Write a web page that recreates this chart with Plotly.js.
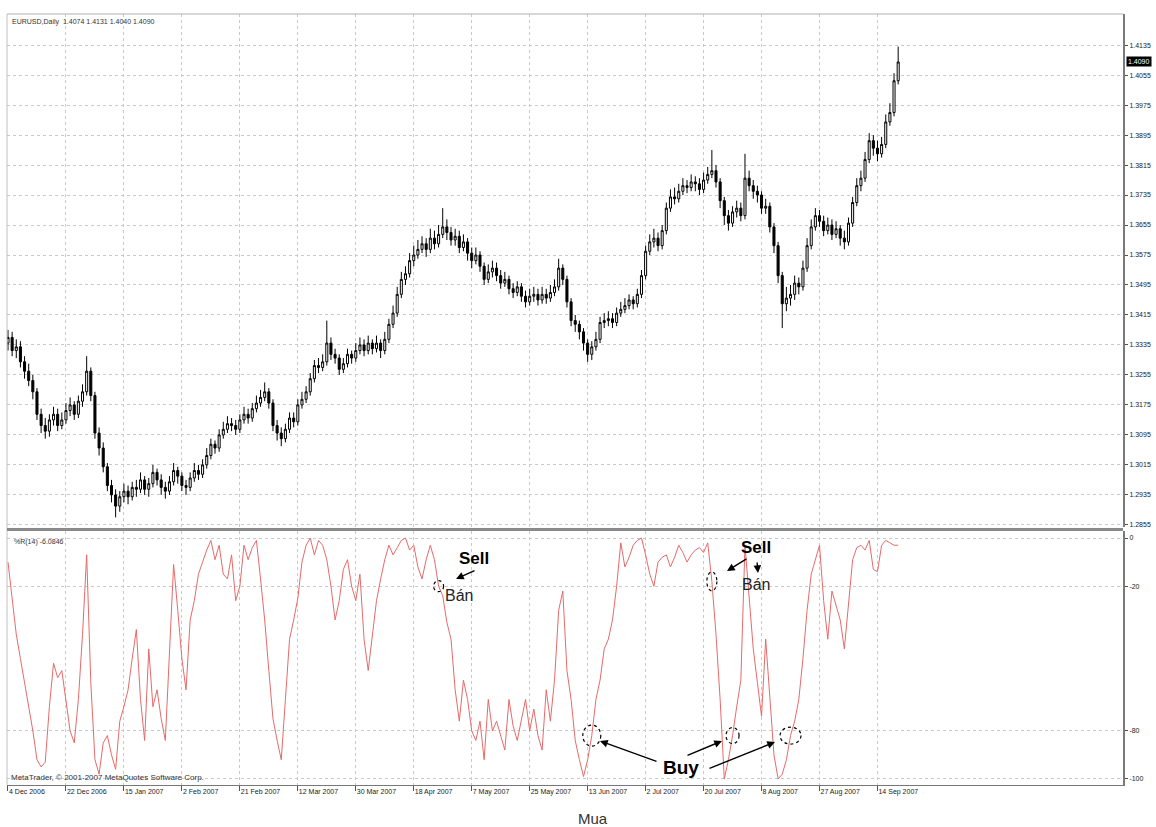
<!DOCTYPE html>
<html><head><meta charset="utf-8">
<script src="https://cdn.plot.ly/plotly-3.0.1.min.js"></script>
<style>html,body{margin:0;padding:0;background:#fff}#chart{width:1156px;height:827px}</style>
</head><body><div id="chart"></div>
<script>
// ---------- DATA ----------
const dateLabels = ["4 Dec 2006","22 Dec 2006","15 Jan 2007","2 Feb 2007","21 Feb 2007","12 Mar 2007","30 Mar 2007","18 Apr 2007","7 May 2007","25 May 2007","13 Jun 2007","2 Jul 2007","20 Jul 2007","8 Aug 2007","27 Aug 2007","14 Sep 2007"];
const dateTickBars = [0,14,28,42,56,70,84,98,112,126,140,154,168,182,196,210];
const priceTicks = [1.2855,1.2935,1.3015,1.3095,1.3175,1.3255,1.3335,1.3415,1.3495,1.3575,1.3655,1.3735,1.3815,1.3895,1.3975,1.4055,1.4135];
const wprTicks = [0,-20,-80,-100];
const wprTickText = ["0","-20","-80","-100"];

const open = [1.3340,1.3355,1.3320,1.3330,1.3290,1.3265,1.3240,1.3210,1.3150,1.3120,
1.3105,1.3135,1.3150,1.3120,1.3135,1.3160,1.3175,1.3150,1.3185,1.3210,
1.3265,1.3200,1.3100,1.3060,1.3010,1.2960,1.2935,1.2905,1.2930,1.2945,
1.2930,1.2955,1.2950,1.2975,1.2950,1.2965,1.2995,1.2975,1.2955,1.2945,
1.2970,1.3000,1.2985,1.2960,1.2955,1.2980,1.3000,1.2990,1.3015,1.3040,
1.3070,1.3060,1.3095,1.3110,1.3125,1.3120,1.3110,1.3135,1.3150,1.3140,
1.3165,1.3180,1.3195,1.3210,1.3180,1.3120,1.3100,1.3085,1.3110,1.3140,
1.3130,1.3175,1.3190,1.3210,1.3245,1.3280,1.3275,1.3290,1.3340,1.3310,
1.3300,1.3270,1.3285,1.3310,1.3300,1.3320,1.3335,1.3320,1.3340,1.3325,
1.3340,1.3320,1.3350,1.3390,1.3420,1.3470,1.3510,1.3525,1.3560,1.3575,
1.3590,1.3605,1.3590,1.3620,1.3605,1.3630,1.3650,1.3635,1.3615,1.3625,
1.3595,1.3610,1.3580,1.3560,1.3575,1.3545,1.3510,1.3530,1.3540,1.3520,
1.3500,1.3510,1.3485,1.3475,1.3490,1.3465,1.3450,1.3465,1.3470,1.3455,
1.3470,1.3460,1.3475,1.3490,1.3540,1.3510,1.3450,1.3400,1.3390,1.3370,
1.3340,1.3310,1.3330,1.3350,1.3395,1.3400,1.3405,1.3395,1.3420,1.3430,
1.3440,1.3455,1.3445,1.3470,1.3520,1.3585,1.3610,1.3620,1.3600,1.3640,
1.3700,1.3730,1.3725,1.3745,1.3760,1.3755,1.3770,1.3765,1.3750,1.3775,
1.3790,1.3800,1.3770,1.3720,1.3680,1.3660,1.3690,1.3700,1.3680,1.3780,
1.3760,1.3745,1.3735,1.3700,1.3705,1.3650,1.3600,1.3520,1.3445,1.3460,
1.3470,1.3500,1.3490,1.3540,1.3600,1.3650,1.3680,1.3665,1.3640,1.3655,
1.3630,1.3645,1.3620,1.3610,1.3660,1.3715,1.3760,1.3780,1.3830,1.3880,
1.3860,1.3845,1.3870,1.3930,1.3955,1.4040];

const high = [1.3375,1.3370,1.3350,1.3345,1.3305,1.3285,1.3255,1.3220,1.3165,1.3140,
1.3150,1.3170,1.3165,1.3155,1.3180,1.3195,1.3185,1.3200,1.3230,1.3305,
1.3275,1.3210,1.3115,1.3075,1.3020,1.2975,1.2950,1.2945,1.2965,1.2960,
1.2970,1.2975,1.2995,1.2985,1.2980,1.3015,1.3005,1.2990,1.2970,1.2985,
1.3020,1.3010,1.2995,1.2975,1.2995,1.3020,1.3015,1.3030,1.3060,1.3085,
1.3080,1.3110,1.3130,1.3145,1.3140,1.3135,1.3150,1.3170,1.3165,1.3180,
1.3200,1.3215,1.3235,1.3220,1.3190,1.3135,1.3115,1.3125,1.3155,1.3155,
1.3190,1.3210,1.3225,1.3260,1.3295,1.3300,1.3310,1.3400,1.3355,1.3325,
1.3310,1.3300,1.3325,1.3320,1.3340,1.3355,1.3350,1.3360,1.3350,1.3360,
1.3350,1.3370,1.3405,1.3440,1.3490,1.3530,1.3545,1.3580,1.3600,1.3615,
1.3625,1.3620,1.3645,1.3640,1.3655,1.3700,1.3670,1.3650,1.3645,1.3640,
1.3630,1.3620,1.3595,1.3595,1.3585,1.3555,1.3550,1.3560,1.3555,1.3535,
1.3530,1.3520,1.3500,1.3505,1.3500,1.3480,1.3485,1.3490,1.3485,1.3490,
1.3485,1.3495,1.3510,1.3565,1.3550,1.3520,1.3460,1.3415,1.3400,1.3380,
1.3350,1.3345,1.3370,1.3410,1.3420,1.3425,1.3420,1.3435,1.3450,1.3460,
1.3470,1.3465,1.3485,1.3535,1.3600,1.3630,1.3645,1.3635,1.3655,1.3715,
1.3750,1.3755,1.3765,1.3780,1.3775,1.3790,1.3785,1.3780,1.3795,1.3810,
1.3855,1.3815,1.3780,1.3730,1.3695,1.3705,1.3720,1.3715,1.3845,1.3800,
1.3775,1.3760,1.3745,1.3725,1.3715,1.3660,1.3610,1.3530,1.3490,1.3495,
1.3520,1.3515,1.3560,1.3620,1.3670,1.3700,1.3695,1.3680,1.3675,1.3670,
1.3665,1.3655,1.3640,1.3675,1.3730,1.3780,1.3800,1.3850,1.3900,1.3895,
1.3880,1.3890,1.3950,1.3980,1.4060,1.4131];

const low = [1.3320,1.3305,1.3300,1.3275,1.3245,1.3225,1.3190,1.3135,1.3100,1.3085,
1.3090,1.3120,1.3105,1.3110,1.3125,1.3145,1.3135,1.3140,1.3170,1.3200,
1.3185,1.3085,1.3040,1.2995,1.2945,1.2915,1.2875,1.2890,1.2915,1.2910,
1.2920,1.2930,1.2940,1.2935,1.2930,1.2955,1.2960,1.2935,1.2925,1.2935,
1.2960,1.2965,1.2945,1.2935,1.2945,1.2970,1.2975,1.2980,1.3005,1.3030,
1.3045,1.3050,1.3085,1.3100,1.3105,1.3095,1.3100,1.3125,1.3125,1.3130,
1.3155,1.3170,1.3185,1.3165,1.3105,1.3080,1.3065,1.3075,1.3100,1.3115,
1.3120,1.3165,1.3180,1.3200,1.3235,1.3260,1.3265,1.3280,1.3295,1.3285,
1.3255,1.3260,1.3275,1.3285,1.3290,1.3310,1.3305,1.3310,1.3310,1.3315,
1.3300,1.3310,1.3340,1.3380,1.3410,1.3460,1.3495,1.3515,1.3545,1.3565,
1.3580,1.3570,1.3580,1.3590,1.3595,1.3620,1.3615,1.3600,1.3600,1.3580,
1.3585,1.3560,1.3540,1.3550,1.3530,1.3495,1.3500,1.3515,1.3505,1.3485,
1.3490,1.3470,1.3460,1.3465,1.3450,1.3435,1.3440,1.3450,1.3440,1.3445,
1.3445,1.3450,1.3465,1.3480,1.3495,1.3435,1.3385,1.3370,1.3350,1.3320,
1.3290,1.3295,1.3320,1.3340,1.3380,1.3385,1.3380,1.3385,1.3410,1.3420,
1.3430,1.3430,1.3435,1.3460,1.3510,1.3575,1.3595,1.3585,1.3590,1.3630,
1.3690,1.3710,1.3715,1.3735,1.3740,1.3745,1.3745,1.3735,1.3740,1.3765,
1.3780,1.3755,1.3700,1.3655,1.3640,1.3650,1.3675,1.3665,1.3670,1.3745,
1.3725,1.3715,1.3685,1.3685,1.3635,1.3580,1.3500,1.3380,1.3425,1.3440,
1.3455,1.3470,1.3480,1.3530,1.3590,1.3640,1.3650,1.3625,1.3630,1.3615,
1.3620,1.3600,1.3590,1.3600,1.3650,1.3705,1.3745,1.3770,1.3820,1.3840,
1.3825,1.3835,1.3860,1.3920,1.3945,1.4030];

const close = [1.3355,1.3320,1.3330,1.3290,1.3265,1.3240,1.3210,1.3150,1.3120,1.3105,
1.3135,1.3150,1.3120,1.3135,1.3160,1.3175,1.3150,1.3185,1.3210,1.3265,
1.3200,1.3100,1.3060,1.3010,1.2960,1.2935,1.2905,1.2930,1.2945,1.2930,
1.2955,1.2950,1.2975,1.2950,1.2965,1.2995,1.2975,1.2955,1.2945,1.2970,
1.3000,1.2985,1.2960,1.2955,1.2980,1.3000,1.2990,1.3015,1.3040,1.3070,
1.3060,1.3095,1.3110,1.3125,1.3120,1.3110,1.3135,1.3150,1.3140,1.3165,
1.3180,1.3195,1.3210,1.3180,1.3120,1.3100,1.3085,1.3110,1.3140,1.3130,
1.3175,1.3190,1.3210,1.3245,1.3280,1.3275,1.3290,1.3340,1.3310,1.3300,
1.3270,1.3285,1.3310,1.3300,1.3320,1.3335,1.3320,1.3340,1.3325,1.3340,
1.3320,1.3350,1.3390,1.3420,1.3470,1.3510,1.3525,1.3560,1.3575,1.3590,
1.3605,1.3590,1.3620,1.3605,1.3630,1.3650,1.3635,1.3615,1.3625,1.3595,
1.3610,1.3580,1.3560,1.3575,1.3545,1.3510,1.3530,1.3540,1.3520,1.3500,
1.3510,1.3485,1.3475,1.3490,1.3465,1.3450,1.3465,1.3470,1.3455,1.3470,
1.3460,1.3475,1.3490,1.3540,1.3510,1.3450,1.3400,1.3390,1.3370,1.3340,
1.3310,1.3330,1.3350,1.3395,1.3400,1.3405,1.3395,1.3420,1.3430,1.3440,
1.3455,1.3445,1.3470,1.3520,1.3585,1.3610,1.3620,1.3600,1.3640,1.3700,
1.3730,1.3725,1.3745,1.3760,1.3755,1.3770,1.3765,1.3750,1.3775,1.3790,
1.3800,1.3770,1.3720,1.3680,1.3660,1.3690,1.3700,1.3680,1.3780,1.3760,
1.3745,1.3735,1.3700,1.3705,1.3650,1.3600,1.3520,1.3445,1.3460,1.3470,
1.3500,1.3490,1.3540,1.3600,1.3650,1.3680,1.3665,1.3640,1.3655,1.3630,
1.3645,1.3620,1.3610,1.3660,1.3715,1.3760,1.3780,1.3830,1.3880,1.3860,
1.3845,1.3870,1.3930,1.3955,1.4040,1.4090];

const wpr = [-10,-25,-40,-50,-60,-70,-80,-92,-95,-93,
-70,-52,-58,-55,-67,-80,-85,-67,-40,-7,
-60,-92,-98,-85,-82,-90,-96,-76,-70,-63,
-50,-38,-67,-84,-46,-70,-63,-75,-84,-46,
-11,-30,-50,-63,-34,-26,-15,-10,-5,-1,
-9,-3,-15,-17,-7,-26,-20,-3,-9,-4,
-1,-17,-34,-55,-75,-84,-92,-67,-42,-34,
-25,-10,-3,0,-7,-1,-3,-9,-20,-34,
-26,-13,-9,-20,-26,-15,-42,-55,-40,-26,
-17,-9,-3,-7,-4,-1,0,-5,-3,-12,
-17,-9,-3,-9,-20,-24,-35,-42,-63,-76,
-59,-67,-80,-84,-76,-92,-67,-80,-76,-82,
-88,-67,-78,-84,-76,-67,-80,-71,-82,-88,
-63,-76,-59,-30,-22,-55,-67,-84,-92,-99,
-92,-82,-67,-59,-46,-42,-34,-20,-2,-12,
-8,-3,-1,0,-7,-15,-20,-10,-8,-7,
-12,-8,-3,-6,-10,-7,-5,-4,-6,-2,
-18,-40,-67,-100,-92,-82,-70,-59,-3,-26,
-46,-60,-74,-42,-67,-90,-100,-98,-92,-82,
-76,-67,-50,-30,-15,-9,-3,-26,-42,-22,
-28,-34,-46,-26,-9,-4,-3,-5,-1,-13,
-14,-3,-1,-2,-3,-3];

const sellBars = [104, 170];
const buyBars = [141, 175, 189];
const titleText = "EURUSD,Daily  1.4074 1.4131 1.4040 1.4090";
const indicatorText = "%R(14) -6.0846";
const copyrightText = "MetaTrader, © 2001-2007 MetaQuotes Software Corp.";

// ---------- LAYOUT HELPERS ----------
const L = 7, R = 1123, T = 14, B = 785;
const px = x => (x - L) / (R - L);
const py = y => (B - y) / (B - T);
const bars = close.map((_, i) => i);
const FONT = "Liberation Sans, Arial, sans-serif";
const gridC = "#c9c9c9";

const traces = [
  {
    type: "candlestick", x: bars, open: open, high: high, low: low, close: close,
    xaxis: "x", yaxis: "y",
    increasing: {line: {color: "#000", width: 1}, fillcolor: "#ffffff"},
    decreasing: {line: {color: "#000", width: 1}, fillcolor: "#000000"},
    whiskerwidth: 0, hoverinfo: "skip", showlegend: false
  },
  {
    type: "scatter", mode: "lines", x: bars, y: wpr, xaxis: "x", yaxis: "y2",
    line: {color: "#e66a6a", width: 1}, hoverinfo: "skip", showlegend: false
  }
];

const circle = (bar, val, w, h) => ({
  type: "circle", xref: "x", yref: "y2", xsizemode: "pixel", ysizemode: "pixel",
  xanchor: bar, yanchor: val, x0: -w / 2, x1: w / 2, y0: -h / 2, y1: h / 2,
  line: {color: "#000", width: 1.2, dash: "dot"}
});

const shapes = [
  {type: "line", xref: "paper", yref: "paper", x0: 0, x1: 1, y0: 1, y1: 1, line: {color: "#b0b0b0", width: 1}},
  {type: "line", xref: "paper", yref: "paper", x0: 0, x1: 0, y0: 0, y1: 1, line: {color: "#c0c0c0", width: 1}},
  {type: "line", xref: "paper", yref: "paper", x0: 0, x1: 1, y0: py(529.5), y1: py(529.5), line: {color: "#8a8a8a", width: 3}},
  circle(sellBars[0], wpr[sellBars[0]], 10, 11),
  circle(sellBars[1], wpr[sellBars[1]], 10, 19),
  circle(buyBars[0], wpr[buyBars[0]], 18, 21),
  circle(buyBars[1], wpr[buyBars[1]], 13, 16),
  circle(buyBars[2], wpr[buyBars[2]], 21, 17)
];

const txt = (text, x, y, size, opts) => Object.assign({
  xref: "paper", yref: "paper", x: px(x), y: py(y), text: text, showarrow: false,
  font: {family: FONT, size: size, color: "#000"}
}, opts || {});
const arrow = (x0, y0, x1, y1) => ({
  xref: "paper", yref: "paper", x: px(x1), y: py(y1), ax: x0 - x1, ay: y0 - y1,
  axref: "pixel", ayref: "pixel", text: "", showarrow: true,
  arrowhead: 2, arrowsize: 1.1, arrowwidth: 1.4, arrowcolor: "#000"
});

const annotations = [
  txt(titleText, 10, 22, 7, {xanchor: "left", yanchor: "middle", font: {family: FONT, size: 7, color: "#333"}}),
  txt(indicatorText, 12, 542, 7, {xanchor: "left", yanchor: "middle", font: {family: FONT, size: 7, color: "#333"}}),
  txt(copyrightText, 9, 777, 8, {xanchor: "left", yanchor: "middle", font: {family: FONT, size: 8, color: "#333"}}),
  txt("<b>Sell</b>", 474, 558, 17, {xanchor: "center", yanchor: "middle"}),
  txt("Bán", 459, 595, 16, {xanchor: "center", yanchor: "middle", font: {family: FONT, size: 16, color: "#222"}}),
  txt("<b>Sell</b>", 756, 547, 17, {xanchor: "center", yanchor: "middle"}),
  txt("Bán", 756, 584, 16, {xanchor: "center", yanchor: "middle", font: {family: FONT, size: 16, color: "#222"}}),
  txt("<b>Buy</b>", 681, 767, 19, {xanchor: "center", yanchor: "middle"}),
  txt("Mua", 593, 818, 15, {xanchor: "center", yanchor: "middle", font: {family: FONT, size: 15, color: "#333"}}),
  arrow(476, 570, 456, 579),
  arrow(748, 558, 727, 571),
  arrow(757, 561, 758, 573),
  arrow(658, 762, 600, 741),
  arrow(686, 756, 722, 741),
  arrow(708, 769, 775, 742),
  {xref: "paper", yref: "y", x: 1, y: close[close.length - 1], xanchor: "left", yanchor: "middle",
   xshift: 3, text: close[close.length - 1].toFixed(4), showarrow: false, bgcolor: "#000",
   font: {family: FONT, size: 7, color: "#fff"}, borderpad: 1}
];

const axisFont = {family: FONT, size: 7, color: "#222"};
const layout = {
  width: 1156, height: 827,
  margin: {l: L, r: 1156 - R, t: T, b: 827 - B, pad: 0},
  paper_bgcolor: "#fff", plot_bgcolor: "#fff",
  showlegend: false, dragmode: false,
  xaxis: {
    domain: [0, 1], anchor: "y2", range: [-0.24, 269.3],
    tickmode: "array", tickvals: dateTickBars, ticktext: dateLabels,
    ticks: "outside", ticklen: 5, tickcolor: "#555", tickwidth: 1,
    ticklabelposition: "outside right", tickfont: axisFont,
    showgrid: true, gridcolor: gridC, griddash: "dot", gridwidth: 1,
    zeroline: false, showline: true, linecolor: "#777", linewidth: 1,
    rangeslider: {visible: false}, fixedrange: true
  },
  yaxis: {
    domain: [0.334, 1], anchor: "x", side: "right", range: [1.2848, 1.4218],
    tickmode: "array", tickvals: priceTicks, ticktext: priceTicks.map(v => v.toFixed(4)),
    ticks: "outside", ticklen: 3, tickcolor: "#555", tickfont: axisFont,
    showgrid: true, gridcolor: gridC, griddash: "dot",
    zeroline: false, showline: true, linecolor: "#7a7a7a", linewidth: 2, fixedrange: true
  },
  yaxis2: {
    domain: [0, 0.3294], anchor: "x", side: "right", range: [-102.5, 2.9],
    tickmode: "array", tickvals: wprTicks, ticktext: wprTickText,
    ticks: "outside", ticklen: 3, tickcolor: "#555", tickfont: axisFont,
    showgrid: true, gridcolor: gridC, griddash: "dot",
    zeroline: false, showline: true, linecolor: "#7a7a7a", linewidth: 2, fixedrange: true
  },
  shapes: shapes,
  annotations: annotations
};

Plotly.newPlot("chart", traces, layout, {staticPlot: true, displayModeBar: false});
</script>
</body></html>
